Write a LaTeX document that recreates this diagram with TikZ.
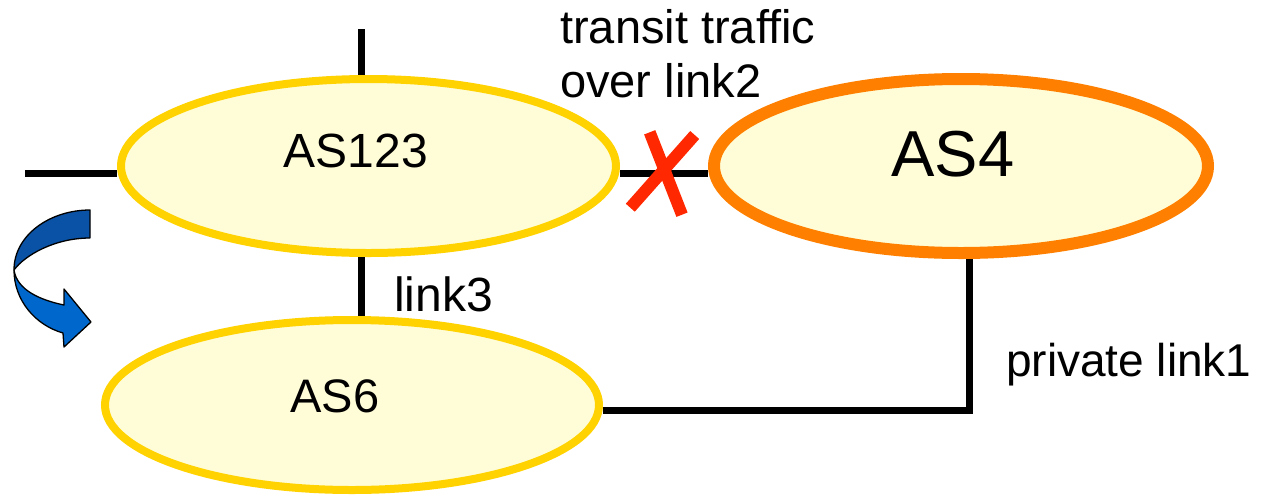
\documentclass[tikz,border=0pt]{standalone}
\usepackage{fontspec}
\setmainfont{Liberation Sans}
\usetikzlibrary{shapes.geometric}
\definecolor{asfill}{RGB}{255,253,215}
\definecolor{asyellow}{RGB}{255,210,0}
\definecolor{asorange}{RGB}{255,128,0}
\definecolor{xred}{RGB}{255,40,0}
\definecolor{arrowdark}{RGB}{10,82,165}
\definecolor{arrowlight}{RGB}{0,104,204}
\tikzset{
  asnode/.style={ellipse, draw=asyellow, line width=8pt, fill=asfill, inner sep=0pt},
  as4node/.style={ellipse, draw=asorange, line width=12pt, fill=asfill, inner sep=0pt},
  link/.style={draw=black, line width=7pt},
  lbl/.style={inner sep=0pt, anchor=base west, font=\fontsize{47}{54}\selectfont},
  aslbl/.style={inner sep=0pt, anchor=base},
  xstroke/.style={draw=xred, line width=12pt},
  arrowpart/.style={draw=black, line width=1.3pt, line join=round}
}
\begin{document}
\begin{tikzpicture}[x=1pt, y=-1pt]
\useasboundingbox (0,0) rectangle (1264,496);

% ellipses
\node[asnode, minimum width=495pt, minimum height=174pt] (AS123) at (368.5,166) {};
\node[as4node, minimum width=494pt, minimum height=174pt] (AS4) at (961,166) {};
\node[asnode, minimum width=494pt, minimum height=170pt] (AS6) at (352,405) {};

% ellipse labels
\node[aslbl, font=\fontsize{48}{56}\selectfont] (tAS123) at (356,167) {AS123};
\node[aslbl, font=\fontsize{65}{74}\selectfont] (tAS4) at (953,176) {AS4};
\node[aslbl, font=\fontsize{47}{54}\selectfont] (tAS6) at (335,412) {AS6};

% connector end points
\coordinate (t0) at (361,29);
\coordinate (l0) at (25,173);
\coordinate (m0) at (660,173);
\coordinate (k0) at (361,290);
\coordinate (c1) at (969,410);

% links
\draw[link] (t0) -- (AS123.north -| t0);
\draw[link] (l0) -- (AS123.west |- l0);
\draw[link] (AS123.east |- m0) -- (AS4.west |- m0);
\draw[link] (AS123.south -| k0) -- (AS6.north -| k0);
\draw[link] (AS4.south -| c1) |- (AS6.east |- c1);

% red cross on link2
\coordinate (xa1) at (649.7,132.3);
\coordinate (xa2) at (682,214.7);
\coordinate (xb1) at (694.7,135);
\coordinate (xb2) at (630.3,207.7);
\draw[xstroke] (xa1) -- (xa2);
\draw[xstroke] (xb1) -- (xb2);

% text labels
\node[lbl] (ttransit) at (560,43) {transit traffic};
\node[lbl] (tover) at (560,97) {over link2};
\node[lbl, font=\fontsize{48}{54}\selectfont] (tlink3) at (394,311) {link3};
\node[lbl, font=\fontsize{46}{52}\selectfont] (tprivate) at (1006,376) {private link1};

% blue curved arrow
\fill[arrowlight] (14,270) .. controls (14,300) and (35,325) .. (63,333)
  -- (64,347) -- (91,322) -- (64,289) -- (64,305)
  .. controls (40,300) and (17,290) .. (14,270) -- cycle;
\draw[arrowpart] (14,270) .. controls (14,300) and (35,325) .. (63,333)
  -- (64,347) -- (91,322) -- (64,289) -- (64,305)
  .. controls (40,300) and (17,290) .. (14,270) -- cycle;
\filldraw[arrowpart, fill=arrowdark] (90,210) .. controls (50,210) and (14,235) .. (14,270)
  .. controls (25,255) and (55,238) .. (90,238) -- cycle;
\end{tikzpicture}
\end{document}
